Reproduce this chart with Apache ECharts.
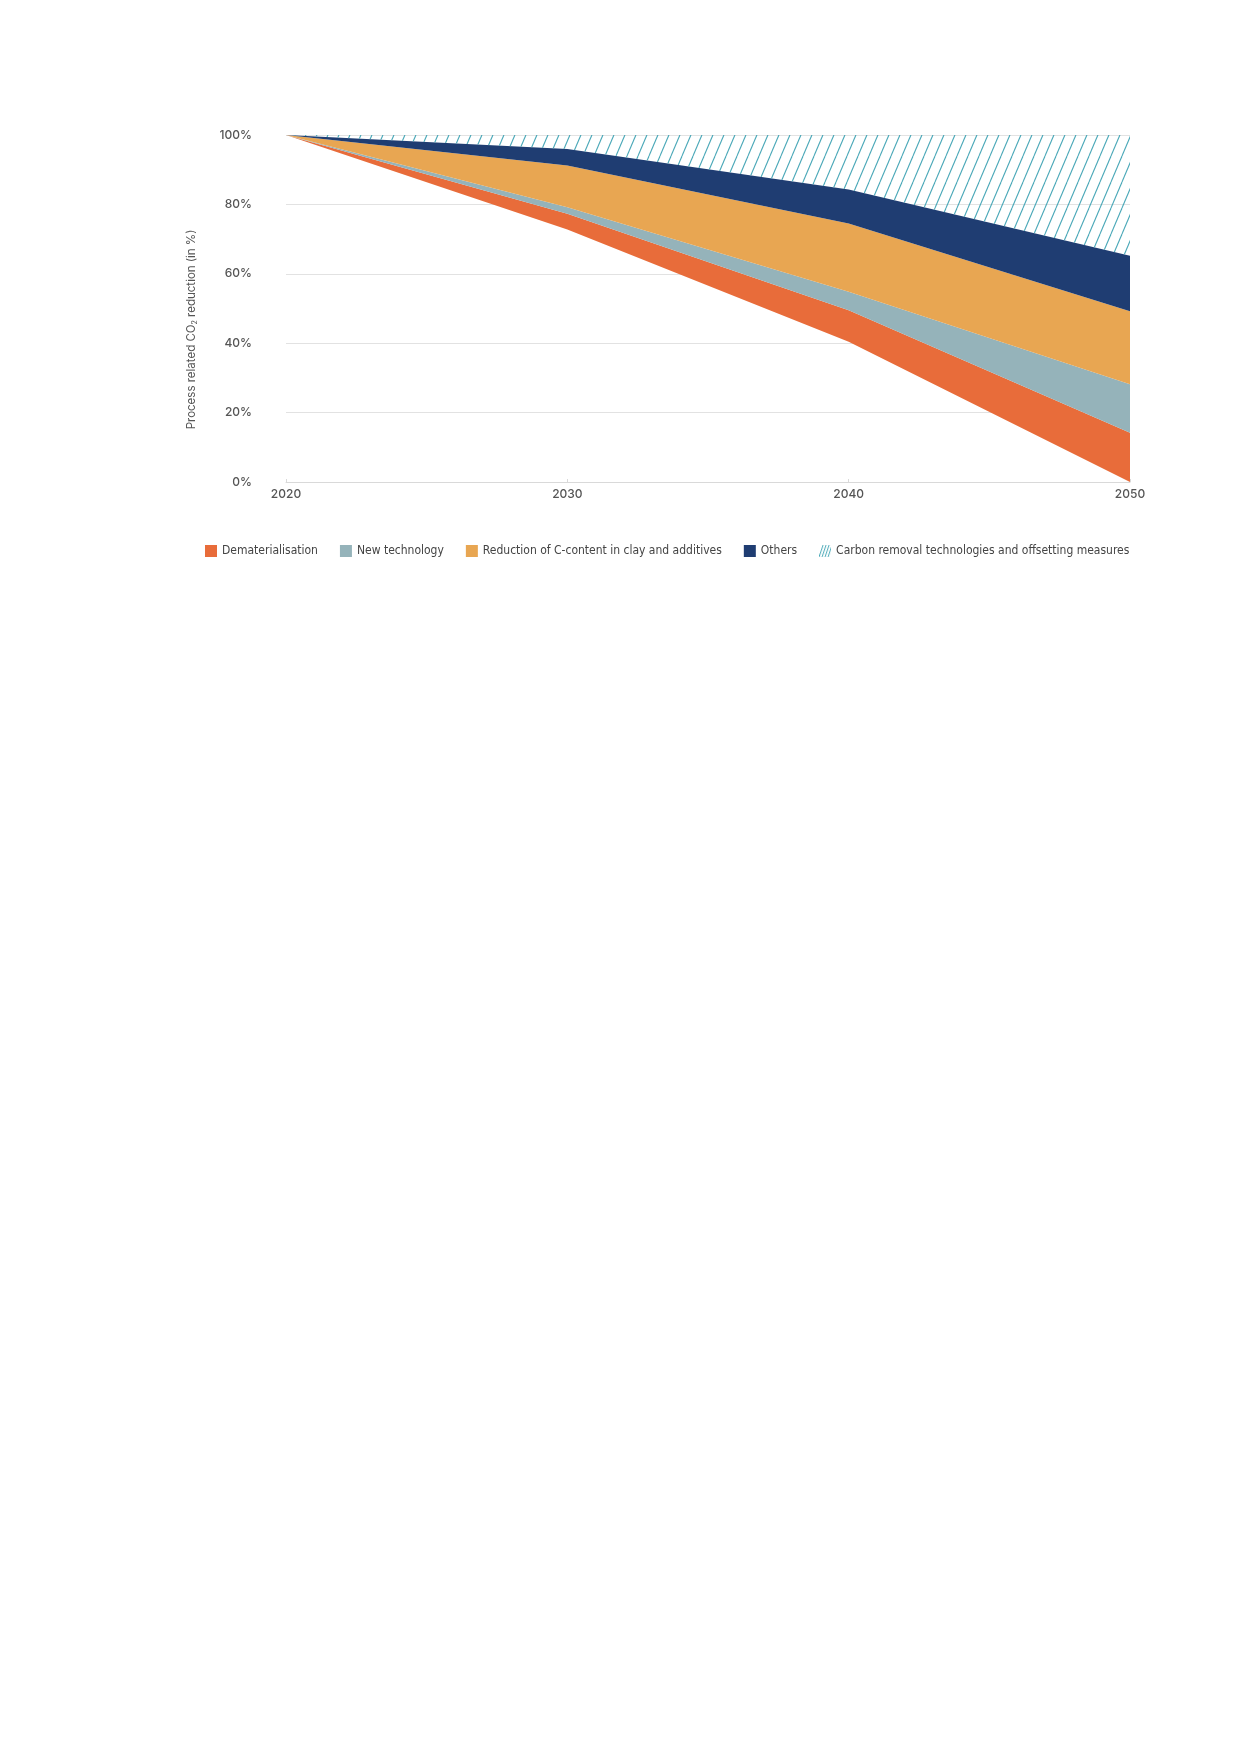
<!DOCTYPE html>
<html>
<head>
<meta charset="utf-8">
<script src="https://cdn.jsdelivr.net/npm/echarts@6/dist/echarts.min.js"></script>
<style>
  html, body { margin: 0; padding: 0; background: #fff; }
  #chart { width: 1240px; height: 1754px; }
</style>
</head>
<body>
<div id="chart"></div>
<script>
// values, % of 2020 process related CO2
const years = ['2020', '2030', '2040', '2050'];
const remaining = [100, 72.8, 40.4, 0];
const dematerialisation = [0, 4.5, 9.1, 14.2];
const newTechnology = [0, 1.9, 5.3, 14.0];
const clayReduction = [0, 12.0, 19.7, 21.0];
const others = [0, 4.8, 9.8, 16.0];
const carbonRemoval = [0, 4.0, 15.7, 34.8];

const seriesNames = [
  'Dematerialisation',
  'New technology',
  'Reduction of C-content in clay and additives',
  'Others',
  'Carbon removal technologies and offsetting measures'
];
const colors = ['#e86c3a', '#95b3ba', '#e8a652', '#1f3d72', '#4aa8b8'];

// diagonal hatch used for the carbon removal band
function hatchCanvas(w, h, lw) {
  const c = document.createElement('canvas');
  c.width = w;
  c.height = h;
  const ctx = c.getContext('2d');
  ctx.strokeStyle = colors[4];
  ctx.lineWidth = lw;
  for (let k = -1; k <= 1; k++) {
    ctx.beginPath();
    ctx.moveTo(k * w, h);
    ctx.lineTo(k * w + w, 0);
    ctx.stroke();
  }
  return c;
}
const hatch = hatchCanvas(11, 26, 1.1);

function legendHatch() {
  const c = document.createElement('canvas');
  c.width = 12;
  c.height = 12;
  const ctx = c.getContext('2d');
  ctx.strokeStyle = colors[4];
  ctx.lineWidth = 1;
  for (let i = 0; i < 4; i++) {
    ctx.beginPath();
    ctx.moveTo(i * 3, 12);
    ctx.lineTo(i * 3 + 4, 0);
    ctx.stroke();
  }
  return 'image://' + c.toDataURL();
}

function band(name, data, fill, color) {
  return {
    name: name,
    type: 'line',
    stack: 'total',
    data: data,
    showSymbol: false,
    silent: true,
    lineStyle: { width: 0 },
    itemStyle: { color: color },
    areaStyle: { color: fill, opacity: 1 }
  };
}

const chart = echarts.init(document.getElementById('chart'));
chart.setOption({
  animation: false,
  backgroundColor: '#fff',
  grid: { left: 286, right: 110, top: 135, bottom: 1272 },
  legend: {
    left: 200,
    top: 540,
    itemWidth: 12,
    itemHeight: 12,
    itemGap: 22,
    textStyle: {
      fontFamily: '"DejaVu Sans Condensed", "Liberation Sans", sans-serif',
      fontSize: 12,
      color: '#444'
    },
    data: [
      { name: seriesNames[0], icon: 'rect' },
      { name: seriesNames[1], icon: 'rect' },
      { name: seriesNames[2], icon: 'rect' },
      { name: seriesNames[3], icon: 'rect' },
      { name: seriesNames[4], icon: legendHatch() }
    ]
  },
  xAxis: {
    type: 'category',
    data: years,
    boundaryGap: false,
    axisLine: { lineStyle: { color: '#d9d9d9' } },
    axisTick: { show: true, length: 3, inside: true, lineStyle: { color: '#d9d9d9' } },
    axisLabel: { color: '#555', fontFamily: 'Inter', fontWeight: 500, fontSize: 12, margin: 6 }
  },
  yAxis: {
    type: 'value',
    min: 0,
    max: 100,
    interval: 20,
    axisLine: { show: false },
    axisTick: { show: false },
    axisLabel: { formatter: '{value}%', color: '#555', fontFamily: 'Inter', fontWeight: 500, fontSize: 12, margin: 34 },
    splitLine: { lineStyle: { color: '#e2e2e2' } },
    name: 'Process related CO{sub|2} reduction (in %)',
    nameLocation: 'middle',
    nameRotate: 90,
    nameGap: 88,
    nameTextStyle: {
      color: '#555',
      fontFamily: 'Inter',
      fontSize: 11.5,
      padding: [0, 42, 0, 0],
      rich: { sub: { fontSize: 7, verticalAlign: 'bottom', padding: [6, 0, 0, 0] } }
    }
  },
  series: [
    {
      name: 'base',
      type: 'line',
      stack: 'total',
      data: remaining,
      showSymbol: false,
      silent: true,
      lineStyle: { width: 0 },
      areaStyle: { color: 'rgba(0,0,0,0)' }
    },
    band(seriesNames[0], dematerialisation, colors[0], colors[0]),
    band(seriesNames[1], newTechnology, colors[1], colors[1]),
    band(seriesNames[2], clayReduction, colors[2], colors[2]),
    band(seriesNames[3], others, colors[3], colors[3]),
    band(seriesNames[4], carbonRemoval, { image: hatch, repeat: 'repeat' }, colors[4])
  ]
});
</script>
</body>
</html>
